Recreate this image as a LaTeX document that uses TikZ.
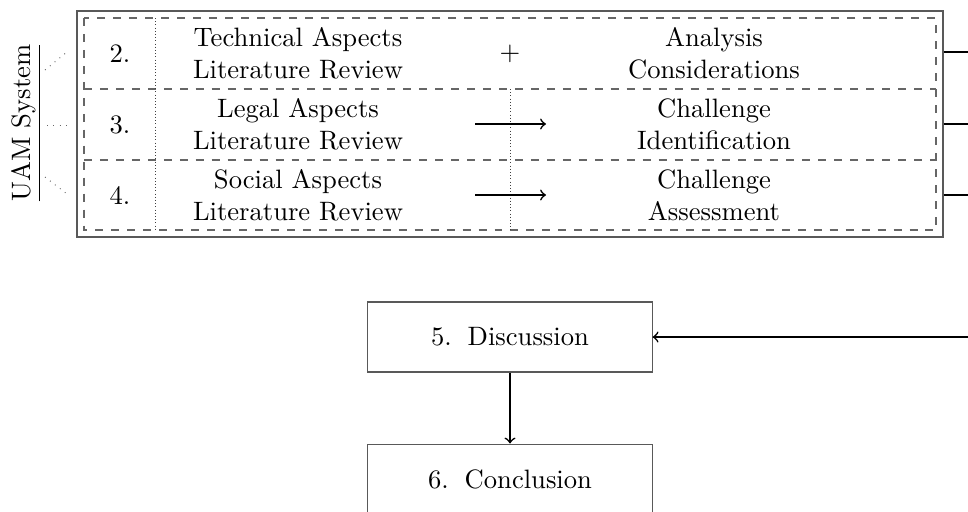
\documentclass[tikz,border=0pt]{standalone}
\usetikzlibrary{fit}
\begin{document}
\begin{tikzpicture}[x=0.3759pt,y=-0.3759pt,
  boxline/.style={draw=black!65, line width=0.4pt},
  framebox/.style={boxline, inner sep=0pt},
  stagebox/.style={boxline, inner sep=0pt, minimum width=106.8pt, minimum height=26.3pt},
  dashline/.style={draw=black!60, dashed, line width=0.4pt},
  dotline/.style={draw=black!75, line width=0.3pt, dash pattern=on 0.3pt off 0.9pt},
  sparsedot/.style={draw=black!60, dotted, line width=0.35pt},
  flow/.style={draw=black, line width=0.6pt, ->},
  plainline/.style={draw=black, line width=0.6pt},
  txt/.style={align=center, inner sep=0pt}]
\clip (0,0) rectangle (968,511);

% outer frame
\coordinate (o1) at (77,11);
\coordinate (o2) at (943,237);
\node[framebox, fit=(o1)(o2)] (outer) {};

% dashed inner grid
\draw[dashline] (84,18) rectangle (936,230);
\draw[dashline] (84,89) -- (936,89);
\draw[dashline] (84,160) -- (936,160);
\draw[dotline] (155,18) -- (155,230);
\draw[dotline] (510,89) -- (510,230);

% row numbers
\node[txt] (n2) at (120,54) {2.};
\node[txt] (n3) at (120,124.5) {3.};
\node[txt] (n4) at (120,195) {4.};

% left column
\node[txt] (t2) at (298,53.5) {Technical Aspects\\Literature Review};
\node[txt] (t3) at (298,124.5) {Legal Aspects\\Literature Review};
\node[txt] (t4) at (298,195) {Social Aspects\\Literature Review};

% right column
\node[txt] (r2) at (714,53.5) {Analysis\\Considerations};
\node[txt] (r3) at (714,124.5) {Challenge\\Identification};
\node[txt] (r4) at (714,195) {Challenge\\Assessment};

% middle operators
\node[txt] (plus) at (510,54) {$+$};
\coordinate (a3s) at (475,124);
\coordinate (a3e) at (546,124);
\coordinate (a4s) at (475,195);
\coordinate (a4e) at (546,195);
\draw[flow] (a3s) -- (a3e);
\draw[flow] (a4s) -- (a4e);

% UAM System label
\node[txt, rotate=90] (uam) at (26,123) {\underline{UAM System}};
\coordinate (u1s) at (45,70);   \coordinate (u1e) at (67,52);
\coordinate (u2s) at (47,125);  \coordinate (u2e) at (67,125);
\coordinate (u3s) at (45,177);  \coordinate (u3e) at (67,194);
\draw[sparsedot] (u1s) -- (u1e);
\draw[sparsedot] (u2s) -- (u2e);
\draw[sparsedot] (u3s) -- (u3e);

% outgoing lines on the right
\coordinate (x2) at (990,52);
\coordinate (x3) at (990,124);
\coordinate (x4) at (990,195);
\draw[plainline] (outer.east |- x2) -- (x2);
\draw[plainline] (outer.east |- x3) -- (x3);
\draw[plainline] (outer.east |- x4) -- (x4);

% discussion and conclusion
\node[stagebox] (disc) at (510,337) {5.\hspace{0.6em}Discussion};
\node[stagebox] (conc) at (510,479) {6.\hspace{0.6em}Conclusion};
\coordinate (rin) at (990,337);
\draw[flow] (rin) -- (disc.east);
\draw[flow] (disc.south) -- (conc.north);
\end{tikzpicture}
\end{document}
